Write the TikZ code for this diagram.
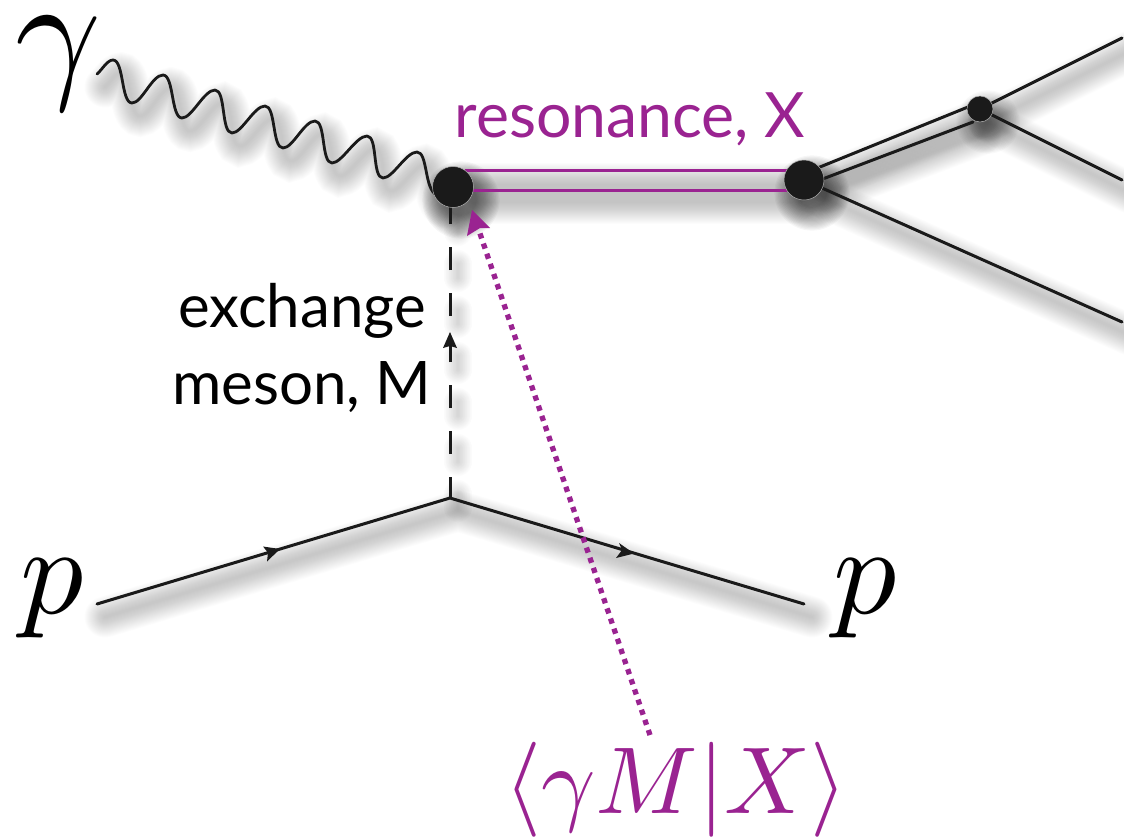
\documentclass[tikz,border=0pt]{standalone}
\usepackage{fontspec}
\setmainfont{Lato}
\usetikzlibrary{arrows.meta,calc}
\definecolor{resviolet}{HTML}{9A2391}
\definecolor{ink}{HTML}{1A1A1A}
\tikzset{
  x=1pt,y=-1pt,
  lineink/.style={draw=ink,line width=3pt,line cap=round,line join=round},
  dashink/.style={draw=ink,line cap=butt,line width=3pt,dash pattern=on 23pt off 23pt,dash phase=2pt},
  dotblob/.style={circle,fill=ink,draw=white!70!black,line width=.5pt,inner sep=0pt},
  latolabel/.style={font=\fontsize{60}{66}\selectfont,text=black,inner sep=0pt},
  reslabel/.style={font=\fontsize{62.5}{68}\selectfont,text=resviolet,inner sep=0pt},
  mathlabel/.style={inner sep=0pt,text=black},
}
\newcommand{\wavepath}{(97,74)
 .. controls (102,70) and (107,60) .. (113,60) .. controls (124,60) and (121,103) .. (132,103)
 .. controls (142,103) and (152,75) .. (163,75) .. controls (174,75) and (171,118) .. (182,118)
 .. controls (192,118) and (204,90) .. (215,90) .. controls (226,90) and (221,133) .. (232,133)
 .. controls (242,133) and (254,106) .. (265,106) .. controls (276,106) and (272,148) .. (283,148)
 .. controls (293,148) and (304,121) .. (315,121) .. controls (326,121) and (321,163) .. (332,163)
 .. controls (342,163) and (356,136) .. (367,136) .. controls (378,136) and (372,178) .. (383,178)
 .. controls (393,178) and (406,152) .. (417,152) .. controls (428,152) and (424,190) .. (437,195)}
\newcommand{\allconnectors}[1]{%
  \draw[#1] \wavepath;
  \draw[#1] (resA) -- (resB);
  \draw[#1] (resC) -- (resD);
  \draw[#1] (dblA) -- (dblB);
  \draw[#1] (dblC) -- (dblD);
  \draw[#1] (smallblob) -- (outA);
  \draw[#1] (smallblob) -- (outB);
  \draw[#1] (bigblobB) -- (outC);
  \draw[#1] (pin) -- (pvertex) -- (pout);
}
\begin{document}
\begin{tikzpicture}
\useasboundingbox (0,0) rectangle (1124,836);
% anchors
\coordinate (resA) at (465,170);
\coordinate (resB) at (790,170);
\coordinate (resC) at (465,190);
\coordinate (resD) at (790,190);
\coordinate (dblA) at (815,169);
\coordinate (dblB) at (968,107);
\coordinate (dblC) at (820,180);
\coordinate (dblD) at (973,122);
\coordinate (outA) at (1122,38);
\coordinate (outB) at (1122,180);
\coordinate (outC) at (1122,322);
\coordinate (pin) at (97,604);
\coordinate (pvertex) at (450,498);
\coordinate (pout) at (804,604);
\coordinate (ptarrow) at (650,735);
\coordinate (ptip) at (472,210);
\coordinate (dashend) at (450,205);
\coordinate (bigblobA) at (453,187);
\coordinate (bigblobB) at (804,180);
\coordinate (smallblob) at (980,109);
% soft shadows
\begin{scope}[transform canvas={xshift=8pt,yshift=-13pt}]
  \foreach \w in {3,5,...,41}{
    \allconnectors{draw=black,opacity=.0125,line width=\w pt,line cap=round}
    \draw[draw=black,opacity=.006,line width=.7*\w pt,line cap=round,dash pattern=on 14pt off 32pt,dash phase=-3pt] (pvertex) -- (dashend);
    \fill[black,opacity=.035] (bigblobA) circle ({14+\w*.6});
    \fill[black,opacity=.035] (bigblobB) circle ({13+\w*.6});
    \fill[black,opacity=.025] (smallblob) circle ({7+\w*.6});
  }
\end{scope}
% lines
\draw[lineink,line width=2.8pt] \wavepath;
\draw[lineink] (dblA) -- (dblB);
\draw[lineink] (dblC) -- (dblD);
\draw[lineink] (smallblob) -- (outA);
\draw[lineink] (smallblob) -- (outB);
\draw[lineink] (bigblobB) -- (outC);
\draw[lineink] (pin) -- (pvertex) -- (pout);
\draw[dashink] (pvertex) -- (dashend);
\draw[draw=resviolet,line width=3pt] (resA) -- (resB);
\draw[draw=resviolet,line width=3pt] (resC) -- (resD);
% mid arrowheads
\fill[ink] (280,549) -- (263,546.5) -- (268,552.6) -- (267,561.5) -- cycle;
\fill[ink] (634,553.5) -- (619,543) -- (622,550) -- (616,558) -- cycle;
\fill[ink] (450,332) -- (443,348) -- (450,346) -- (457,348) -- cycle;
\draw[ink,line width=3pt] (450,346) -- (450,362);
% blobs
\node[dotblob,minimum size=41pt] (blobA) at (bigblobA) {};
\node[dotblob,minimum size=40pt] (blobB) at (bigblobB) {};
\node[dotblob,minimum size=26pt] (blobC) at (smallblob) {};
% dotted arrow
\draw[draw=resviolet,line width=5.3pt,dash pattern=on 5.3pt off 5.4pt,shorten >=16pt] (ptarrow) -- (ptip);
\fill[resviolet] (ptip) -- (490,228) -- (480,228) -- (467,236) -- cycle;
% labels
\node[reslabel,anchor=base] (resname) at (630,137) {resonance, X};
\node[latolabel,anchor=base] (ex) at (302,327) {exchange};
\node[latolabel,anchor=base] (me) at (302,404) {meson, M};
\node[mathlabel,scale=15] (gam) at (58,64) {$\gamma$};
\node[mathlabel,scale=12.6] (p1) at (52,599) {$p$};
\node[mathlabel,scale=12.6] (p2) at (865,599) {$p$};
\node[mathlabel,text=resviolet,scale=9.5,anchor=base] (bracket) at (676,813) {$\langle\gamma M|X\rangle$};
\end{tikzpicture}
\end{document}
